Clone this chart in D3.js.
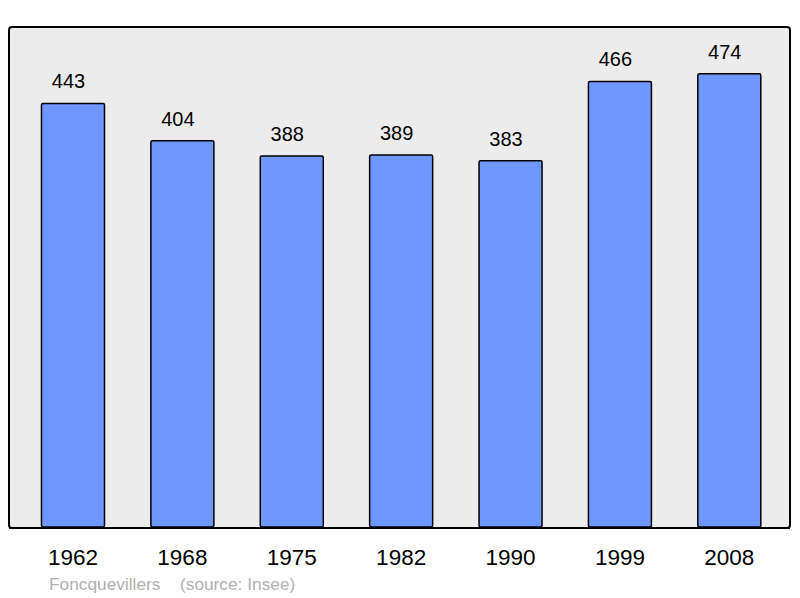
<!DOCTYPE html>
<html><head><meta charset="utf-8">
<script src="https://cdn.jsdelivr.net/npm/d3@7"></script>
<style>body{margin:0;background:#fff}svg{display:block}</style>
</head><body>
<svg id="c" width="800" height="598"></svg>
<script>
const years = ["1962","1968","1975","1982","1990","1999","2008"];
const population = [443,404,388,389,383,466,474];
const title = "Foncquevillers";
const source = "(source: Insee)";

const svg = d3.select("#c");
const font = "'Liberation Sans', Arial, sans-serif";

svg.append("rect").attr("x",9).attr("y",27).attr("width",781).attr("height",501)
  .attr("rx",3).attr("fill","#ececec").attr("stroke","#000").attr("stroke-width",2);

const x = d3.scaleBand().domain(years).range([18.3,784]).paddingInner(0.424).paddingOuter(0.212);
const y = d3.scaleLinear().domain([0,523]).range([527,27]);

svg.selectAll("rect.bar").data(population).join("rect").attr("class","bar")
  .attr("x",(d,i)=>x(years[i])).attr("y",d=>y(d))
  .attr("width",x.bandwidth()).attr("height",d=>y(0)-y(d))
  .attr("rx",1.5)
  .attr("fill","#7096ff").attr("stroke","#000").attr("stroke-width",1.5);

svg.selectAll("text.val").data(population).join("text").attr("class","val")
  .attr("x",(d,i)=>x(years[i])+x.bandwidth()/2-4.5).attr("y",d=>y(d)-15)
  .attr("text-anchor","middle").attr("font-family",font).attr("font-size",20)
  .attr("fill","#000").text(d=>d);

svg.append("line").attr("x1",9).attr("x2",790).attr("y1",528).attr("y2",528)
  .attr("stroke","#000").attr("stroke-width",2);

const xAxis = d3.axisBottom(x).tickSize(0).tickPadding(0);
const g = svg.append("g").attr("transform","translate(0,548)").call(xAxis);
g.select(".domain").remove();
g.selectAll("text").attr("font-family",font).attr("font-size",22.5).attr("fill","#000")
  .attr("dy",null).attr("y",17);

svg.append("text").attr("x",49).attr("y",590).attr("font-family",font).attr("font-size",17.3)
  .attr("fill","#b0b0b0").text(title);
svg.append("text").attr("x",180).attr("y",590).attr("font-family",font).attr("font-size",17.3)
  .attr("fill","#b0b0b0").text(source);
</script>
</body></html>
